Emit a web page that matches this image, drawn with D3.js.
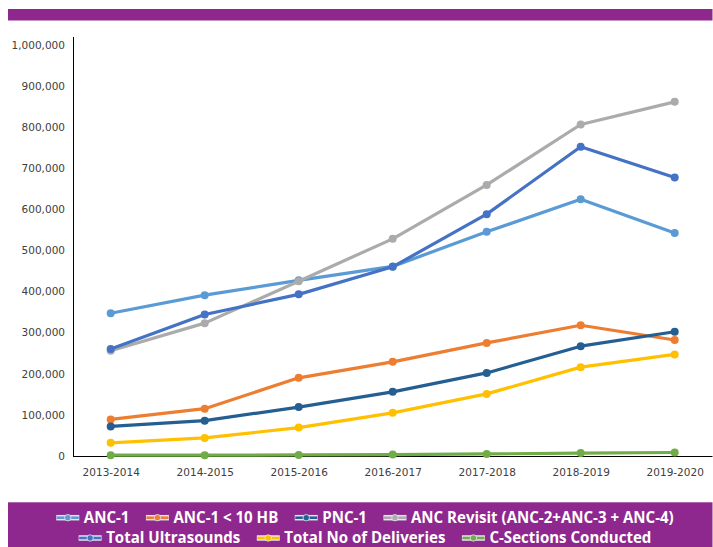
<!DOCTYPE html>
<html>
<head>
<meta charset="utf-8">
<script src="https://cdn.jsdelivr.net/npm/d3@7"></script>
<style>
  body { margin: 0; background: #fff; }
  svg { display: block; }
</style>
</head>
<body>
<svg id="chart" width="713" height="547"></svg>
<script>
// Fiscal years on the category axis
const years = ["2013-2014", "2014-2015", "2015-2016", "2016-2017", "2017-2018", "2018-2019", "2019-2020"];

// Service volumes per year
const anc1             = [347000, 391000, 427000, 461000, 545000, 624000, 542000];
const anc1Below10HB    = [89000, 115000, 190000, 229000, 275000, 318000, 282000];
const pnc1             = [72000, 86000, 119000, 156000, 202000, 267000, 302000];
const ancRevisit       = [256000, 323000, 425000, 528000, 659000, 806000, 861000];
const totalUltrasounds = [260000, 344000, 393000, 460000, 588000, 752000, 677000];
const totalDeliveries  = [32000, 44000, 69000, 105000, 151000, 216000, 247000];
const cSections        = [2000, 2000, 2500, 3500, 5000, 7000, 8500];

const seriesNames = ["ANC-1", "ANC-1 < 10 HB", "PNC-1", "ANC Revisit (ANC-2+ANC-3 + ANC-4)",
                     "Total Ultrasounds", "Total No of Deliveries", "C-Sections Conducted"];
const seriesColors = ["#5B9BD5", "#ED7D31", "#255E91", "#ABABAB", "#4472C4", "#FFC000", "#70AD47"];
const yTicks = [0, 100000, 200000, 300000, 400000, 500000, 600000, 700000, 800000, 900000, 1000000];

const series = [anc1, anc1Below10HB, pnc1, ancRevisit, totalUltrasounds, totalDeliveries, cSections]
  .map((values, i) => ({ name: seriesNames[i], color: seriesColors[i], values }));

const purple = "#8E288E";
const svg = d3.select("#chart");

// Header band
svg.append("rect").attr("x", 8).attr("y", 9).attr("width", 704.5).attr("height", 11.5).attr("fill", purple);

// Scales
const x = d3.scalePoint().domain(years).range([110.7, 674.7]);
const y = d3.scaleLinear().domain([0, 1000000]).range([456, 44.7]);

const tickFont = "'DejaVu Sans', Verdana, sans-serif";

// Y axis
const yAxis = svg.append("g").attr("transform", "translate(73,0)")
  .call(d3.axisLeft(y).tickValues(yTicks).tickSize(0).tickPadding(8).tickFormat(d3.format(",")));
yAxis.select(".domain").remove();
yAxis.selectAll("text").attr("fill", "#404040").style("font-family", tickFont).style("font-size", "10.5px");

// X axis
const xAxis = svg.append("g").attr("transform", "translate(0,456)")
  .call(d3.axisBottom(x).tickSize(0).tickPadding(13));
xAxis.select(".domain").remove();
xAxis.selectAll("text").attr("fill", "#404040").style("font-family", tickFont).style("font-size", "10.5px");

// Axis lines
svg.append("line").attr("x1", 73.5).attr("x2", 73.5).attr("y1", 37).attr("y2", 456.5)
  .attr("stroke", "#000").attr("stroke-width", 1);
svg.append("line").attr("x1", 73).attr("x2", 712.5).attr("y1", 456.5).attr("y2", 456.5)
  .attr("stroke", "#000").attr("stroke-width", 1);

// Series lines and markers
const line = d3.line().x((d, i) => x(years[i])).y(d => y(d));
const plot = svg.append("g");
series.forEach(s => {
  const g = plot.append("g");
  g.append("path").datum(s.values).attr("d", line)
    .attr("fill", "none").attr("stroke", s.color).attr("stroke-width", 3.2)
    .attr("stroke-linejoin", "round").attr("stroke-linecap", "round");
  g.selectAll("circle").data(s.values).join("circle")
    .attr("cx", (d, i) => x(years[i])).attr("cy", d => y(d)).attr("r", 4)
    .attr("fill", s.color);
});

// Legend band
svg.append("rect").attr("x", 8).attr("y", 502.3).attr("width", 704.5).attr("height", 45).attr("fill", purple);

const legendFont = "'Open Sans', sans-serif";
const legendRows = [series.slice(0, 4), series.slice(4)];
const rowCenters = [517.7, 538];
const markerW = 23, markerGap = 4.5, itemGap = 16.5, legendCenter = 365;

// Fit the legend font so the longest entry spans its measured width
const probe = svg.append("text").style("font-family", legendFont).style("font-weight", 700)
  .style("font-size", "16px").text(seriesNames[3]);
const legendSize = 16 * 263 / probe.node().getComputedTextLength();
probe.remove();

legendRows.forEach((row, r) => {
  const g = svg.append("g");
  const items = row.map(s => {
    const item = g.append("g");
    const t = item.append("text").attr("x", markerW + markerGap).attr("y", rowCenters[r])
      .attr("dy", "0.36em").attr("fill", "#fff")
      .style("font-family", legendFont).style("font-weight", 700)
      .style("font-size", legendSize + "px").text(s.name);
    // marker: coloured line with a pale halo and a dot
    item.append("line").attr("x1", 0).attr("x2", markerW).attr("y1", rowCenters[r]).attr("y2", rowCenters[r])
      .attr("stroke", "#E6E6EE").attr("stroke-width", 5.5);
    item.append("line").attr("x1", 0.5).attr("x2", markerW - 0.5).attr("y1", rowCenters[r]).attr("y2", rowCenters[r])
      .attr("stroke", s.color).attr("stroke-width", 2.6);
    item.append("circle").attr("cx", markerW / 2).attr("cy", rowCenters[r]).attr("r", 3.2)
      .attr("fill", s.color).attr("stroke", "#E6E6EE").attr("stroke-width", 0.8);
    return { item, w: markerW + markerGap + t.node().getComputedTextLength() };
  });
  const total = d3.sum(items, d => d.w) + itemGap * (items.length - 1);
  let cx = legendCenter - total / 2;
  items.forEach(d => {
    d.item.attr("transform", `translate(${cx},0)`);
    cx += d.w + itemGap;
  });
});
</script>
</body>
</html>
